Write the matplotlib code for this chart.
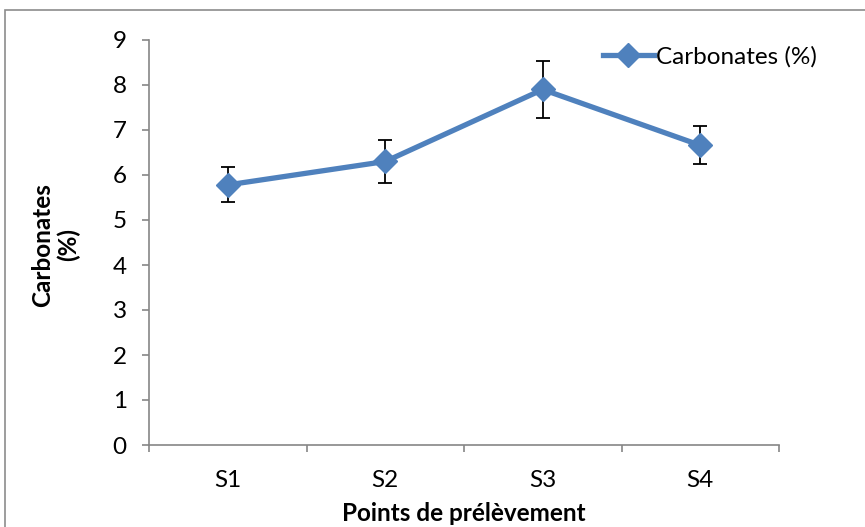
import matplotlib.pyplot as plt
from matplotlib.patches import Rectangle

# data
sites = ["S1", "S2", "S3", "S4"]
carbonates = [5.78, 6.30, 7.90, 6.66]
errors = [0.39, 0.47, 0.63, 0.42]

plt.rcParams['font.family'] = ['Lato', 'DejaVu Sans']

fig = plt.figure(figsize=(8.65, 5.27), dpi=100)
# grey frame round the chart, cut off at the right and bottom as in the picture
fig.patches.append(Rectangle((5 / 865, -0.1), 1.2, (527 - 10) / 527 + 0.1,
                             transform=fig.transFigure, fill=False,
                             edgecolor="#8c8c8c", linewidth=1.2))

ax = fig.add_axes([149 / 865, 82 / 527, 630 / 865, 405 / 527])

x = list(range(1, len(sites) + 1))
blue = "#4F81BD"
ax.errorbar(x, carbonates, yerr=errors, fmt="none", ecolor="black",
            elinewidth=1.3, capsize=5, capthick=1.3, zorder=2)
ax.plot(x, carbonates, color=blue, linewidth=3.8, marker="D", markersize=12,
        label="Carbonates (%)", zorder=3)

ax.set_xlim(0.5, 4.5)
ax.set_ylim(0, 9)
ax.set_yticks(range(0, 10))
ax.set_xticks([0.5, 1.5, 2.5, 3.5, 4.5])
ax.set_xticklabels([])
ax.set_xticks(x, minor=True)
ax.set_xticklabels(sites, minor=True)

grey = "#868686"
for s in ["top", "right"]:
    ax.spines[s].set_visible(False)
for s in ["left", "bottom"]:
    ax.spines[s].set_color(grey)
    ax.spines[s].set_linewidth(1.2)
ax.tick_params(axis="y", which="major", length=5, color=grey, width=1.2,
               labelsize=17.5, pad=11)
ax.tick_params(axis="x", which="major", length=5, color=grey, width=1.2)
ax.tick_params(axis="x", which="minor", length=0, labelsize=17.5, pad=18)

ax.set_xlabel("Points de prélèvement", fontsize=17.5, fontweight="bold")
ax.xaxis.set_label_coords(0.5, -0.14)
ax.set_ylabel("Carbonates\n(%)", fontsize=17.5, fontweight="bold",
              linespacing=1.1)
ax.yaxis.set_label_coords(-0.11, 0.494)

leg = ax.legend(loc="upper right", bbox_to_anchor=(1.095, 1.04), frameon=False,
                fontsize=17.5, handlelength=2.1, handletextpad=0.1)

fig.savefig("out.png", dpi=100)
